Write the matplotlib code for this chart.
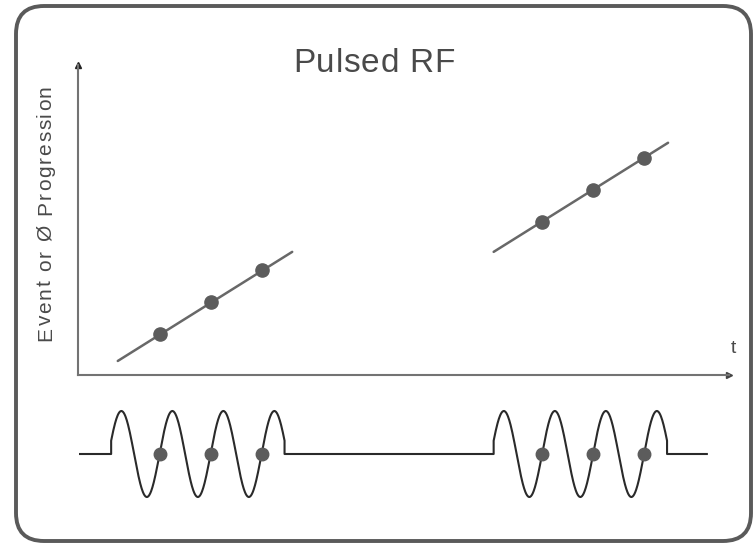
import numpy as np
import matplotlib
matplotlib.use("Agg")
import matplotlib.pyplot as plt
from matplotlib.patches import FancyBboxPatch
from matplotlib import font_manager

# ---------------- data ----------------
title_text = "Pulsed RF"
y_label_text = "Event or Ø Progression"
x_label_text = "t"

# time in RF cycles, phase in cycles
pulse_on = [0.65, 8.15]
pulse_off = [4.05, 11.55]
trace_span = [0.04, 12.33]
zero_cross_left = [1.6, 2.6, 3.6]
zero_cross_right = [9.1, 10.1, 11.1]
phase_left = [1.3, 2.3, 3.3]
phase_right = [4.8, 5.8, 6.8]
line_left_t = [0.78, 4.2]
line_left_phase = [0.44, 3.86]
line_right_t = [8.15, 11.57]
line_right_phase = [3.86, 7.28]
rf_period = 1.0

# ---------------- layout ----------------
W, H = 756, 545
DPI = 100
fig = plt.figure(figsize=(W / DPI, H / DPI), dpi=DPI)
fig.patch.set_facecolor("white")

FONT = "Liberation Sans"
GREY_TXT = "#4a4a4a"
AX_COL = "#737373"
LINE_COL = "#686868"
DOT_COL = "#5c5c5c"
WAVE_COL = "#2a2a2a"

# background axes in pixel units
ax_bg = fig.add_axes([0, 0, 1, 1], zorder=0)
ax_bg.set_xlim(0, W)
ax_bg.set_ylim(H, 0)
ax_bg.axis("off")

border = FancyBboxPatch((16, 6), 735, 535,
                        boxstyle="round,pad=0,rounding_size=28",
                        fill=False, edgecolor="#5a5a5a", linewidth=2.8)
ax_bg.add_patch(border)


def advances(s, size_pt):
    try:
        from matplotlib.ft2font import FT2Font
        path = font_manager.findfont(font_manager.FontProperties(family=FONT))
        f = FT2Font(path)
        f.set_size(size_pt, DPI)
        out = []
        for c in s:
            g = f.load_char(ord(c))
            out.append(g.linearHoriAdvance / 65536.0)
        return out
    except Exception:
        return [0.55 * size_pt * DPI / 72.0 for _ in s]


def spaced_text(s, start, fixed, total, size_pt, rotated=False):
    adv = advances(s, size_pt)
    natural = sum(adv)
    gap = (total - natural) / max(len(s) - 1, 1)
    pos = start
    for c, a in zip(s, adv):
        if rotated:
            ax_bg.text(fixed, pos, c, rotation=90, rotation_mode="anchor",
                       ha="left", va="baseline", fontsize=size_pt,
                       family=[FONT, "DejaVu Sans"], color=GREY_TXT)
            pos -= a + gap
        else:
            ax_bg.text(pos, fixed, c, ha="left", va="baseline",
                       fontsize=size_pt, family=[FONT, "DejaVu Sans"],
                       color=GREY_TXT)
            pos += a + gap


spaced_text(title_text, 293, 72, 162, 24)
spaced_text(y_label_text, 341, 51, 256, 15, rotated=True)
ax_bg.text(733, 353, x_label_text, ha="center", va="baseline", fontsize=14,
           family=[FONT, "DejaVu Sans"], color=GREY_TXT)

# ---------------- top plot: phase progression ----------------
px_per_cycle_x = 51.0
px_per_cycle_y = 31.9
x0_px, x1_px = 78, 729
ytop_px, yax_px = 65, 375
tmax = (x1_px - x0_px) / px_per_cycle_x

ax_top = fig.add_axes([x0_px / W, 1 - yax_px / H, (x1_px - x0_px) / W,
                       (yax_px - ytop_px) / H], zorder=2)
ax_top.set_facecolor("none")
ax_top.set_xlim(0, tmax)
ax_top.set_ylim(0, (yax_px - ytop_px) / px_per_cycle_y)
for side in ("top", "right"):
    ax_top.spines[side].set_visible(False)
for side in ("left", "bottom"):
    ax_top.spines[side].set_color(AX_COL)
    ax_top.spines[side].set_linewidth(1.5)
ax_top.set_xticks([])
ax_top.set_yticks([])
ax_top.plot(0, 1, "^", color="#222222", markersize=5,
            transform=ax_top.get_xaxis_transform(), clip_on=False)
ax_top.plot(1, 0, ">", color="#444444", markersize=5,
            transform=ax_top.get_yaxis_transform(), clip_on=False)

ax_top.plot(line_left_t, line_left_phase, color=LINE_COL, lw=1.8,
            solid_capstyle="round")
ax_top.plot(line_right_t, line_right_phase, color=LINE_COL, lw=1.8,
            solid_capstyle="round")
ax_top.plot(zero_cross_left, phase_left, "o", color=DOT_COL, markersize=9.5)
ax_top.plot(zero_cross_right, phase_right, "o", color=DOT_COL, markersize=9.5)

# ---------------- bottom plot: pulsed RF waveform ----------------
amp_px = 43.0
wave_center_px = 454
half_h = 55
ax_bot = fig.add_axes([x0_px / W, 1 - (wave_center_px + half_h) / H,
                       (x1_px - x0_px) / W, 2 * half_h / H], zorder=2)
ax_bot.set_facecolor("none")
ax_bot.set_xlim(0, tmax)
ax_bot.set_ylim(-half_h / amp_px, half_h / amp_px)
ax_bot.axis("off")

refs = [zero_cross_left[0], zero_cross_right[0]]
xs, ys = [trace_span[0]], [0.0]
for on, off, ref in zip(pulse_on, pulse_off, refs):
    tt = np.linspace(on, off, 400)
    xs += [on] + list(tt) + [off]
    ys += [0.0] + list(np.sin(2 * np.pi * (tt - ref) / rf_period)) + [0.0]
xs.append(trace_span[1])
ys.append(0.0)
ax_bot.plot(xs, ys, color=WAVE_COL, lw=1.5, solid_joinstyle="round")

dots_t = zero_cross_left + zero_cross_right
ax_bot.plot(dots_t, np.zeros(len(dots_t)), "o", color=DOT_COL, markersize=9,
            zorder=3)

fig.savefig("out.png", dpi=DPI, facecolor="white")
